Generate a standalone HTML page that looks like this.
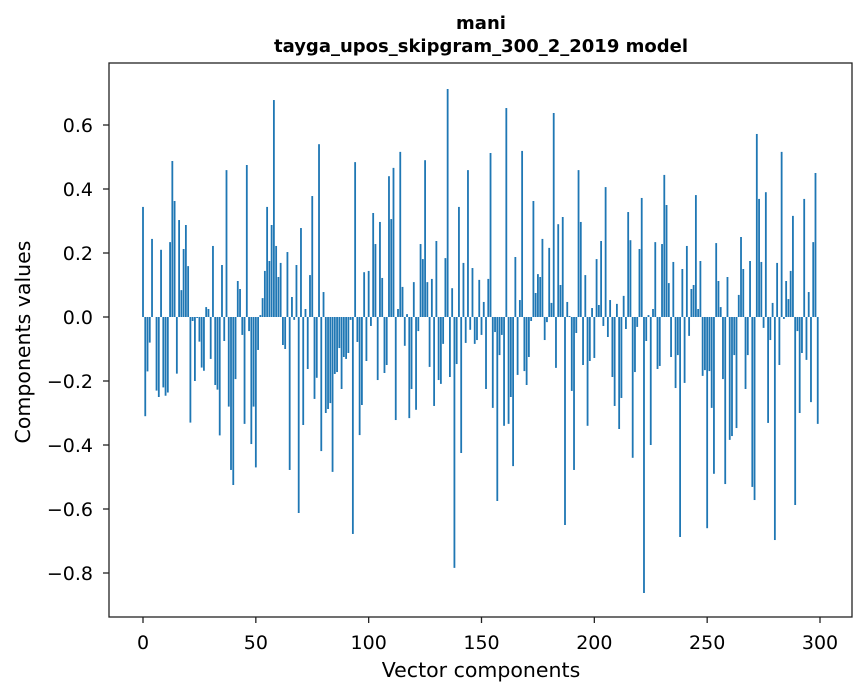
<!DOCTYPE html>
<html><head><meta charset="utf-8"><style>
body{margin:0;background:#fff;font-family:"DejaVu Sans","Liberation Sans",sans-serif}
</style></head><body>
<svg id="chart" width="867" height="696" xmlns="http://www.w3.org/2000/svg" font-family="DejaVu Sans, Liberation Sans, sans-serif">
<rect width="867" height="696" fill="#fff"/>
<text x="481" y="29" text-anchor="middle" font-size="18" font-weight="bold">mani</text>
<text x="481" y="52" text-anchor="middle" font-size="18" font-weight="bold">tayga_upos_skipgram_300_2_2019 model</text>
<g id="bars"></g>
<g id="axes"></g>
<rect x="109" y="63" width="743" height="554" fill="none" stroke="#222" stroke-width="1.3"/>
<text x="481" y="677" text-anchor="middle" font-size="20.5">Vector components</text>
<text transform="translate(30,342) rotate(-90)" text-anchor="middle" font-size="20.5">Components values</text>
</svg>
<script>
const values = [0.344,-0.31,-0.17,-0.08,0.244,0.0,-0.23,-0.25,0.21,-0.22,-0.246,-0.236,0.234,0.4875,0.3625,-0.177,0.303,0.084,0.2125,0.2875,0.159,-0.33,-0.0125,-0.2,-0.003,-0.077,-0.158,-0.168,0.031,0.025,-0.131,0.222,-0.2125,-0.227,-0.37,0.1625,-0.075,0.459,-0.28,-0.478,-0.525,-0.194,0.1125,0.0875,-0.056,-0.334,0.475,-0.044,-0.397,-0.28,-0.47,
-0.103,0.006,0.059,0.144,0.344,0.175,0.2875,0.678,0.222,0.125,0.169,-0.0875,-0.1,0.203,-0.478,0.0625,-0.009,0.1625,-0.6125,0.278,-0.3375,0.025,-0.1625,0.131,0.378,-0.256,-0.19,0.54,-0.419,0.078,-0.3,-0.2875,-0.269,-0.484,-0.178,-0.172,-0.097,-0.225,-0.125,-0.131,-0.1125,-0.009,-0.678,0.484,-0.078,-0.369,-0.275,0.14,-0.1375,
0.144,-0.028,0.325,0.228,-0.197,0.297,0.122,-0.175,-0.15,0.44,0.306,0.466,-0.322,0.025,0.516,0.094,-0.09,0.009,-0.316,-0.225,0.109,-0.29,-0.044,0.228,0.181,0.49,0.109,-0.156,0.119,-0.278,0.2375,-0.197,-0.209,-0.084,0.184,0.7125,-0.1875,0.09,-0.784,-0.147,0.344,-0.425,0.169,-0.081,0.459,-0.04,0.153,-0.084,-0.072,0.116,
-0.056,0.047,-0.225,0.119,0.5125,-0.284,-0.047,-0.575,-0.119,-0.056,-0.34,0.653,-0.334,-0.25,-0.466,0.1875,-0.181,0.053,0.519,-0.169,-0.2125,-0.125,-0.0125,0.3625,0.075,0.134,0.125,0.244,-0.072,-0.016,0.216,0.044,0.6375,-0.159,0.29,0.1,0.3125,-0.65,0.047,0.003,-0.231,-0.478,-0.05,0.459,0.297,-0.15,0.131,-0.34,-0.1375,0.028,
-0.128,0.181,0.0375,0.2375,-0.028,0.406,-0.0625,0.053,-0.1875,-0.278,0.041,-0.35,-0.253,0.066,-0.0375,0.328,0.24,-0.44,-0.172,-0.031,0.2125,0.372,-0.8625,-0.075,0.006,-0.4,0.025,0.234,-0.1625,-0.153,0.228,0.444,0.35,0.106,-0.125,0.172,-0.222,-0.119,-0.6875,0.15,-0.206,0.222,-0.059,0.0875,0.1,0.381,0.025,0.175,-0.184,-0.166,-0.66,
-0.169,-0.284,-0.49,0.231,0.1125,0.031,-0.194,-0.522,0.125,-0.384,-0.372,-0.119,-0.347,0.069,0.25,0.15,-0.225,-0.119,0.175,-0.531,-0.572,0.572,0.369,0.172,-0.034,0.39,-0.331,-0.072,0.044,-0.697,0.169,-0.15,0.516,-0.006,0.1125,0.056,0.144,0.316,-0.5875,-0.044,-0.3,-0.1125,0.369,-0.134,0.078,-0.266,0.234,0.45,-0.334];
const xTicks = [0,50,100,150,200,250,300];
const yTicks = [0.6,0.4,0.2,0.0,-0.2,-0.4,-0.6,-0.8];
const yTickLabels = ["0.6","0.4","0.2","0.0","\u22120.2","\u22120.4","\u22120.6","\u22120.8"];

const NS="http://www.w3.org/2000/svg";
function xs(v){return 143+v*(677/300);}
function ys(v){return 317-v*320;}
const bars=document.getElementById('bars');
values.forEach((v,i)=>{
  const r=document.createElementNS(NS,'rect');
  const w=0.8*(677/300);
  r.setAttribute('x',xs(i)-w/2);
  r.setAttribute('y',Math.min(ys(v),ys(0)));
  r.setAttribute('width',w);
  r.setAttribute('height',Math.abs(ys(v)-ys(0)));
  r.setAttribute('fill','#1f77b4');
  
  
  bars.appendChild(r);
});
const axes=document.getElementById('axes');
xTicks.forEach(t=>{
  const l=document.createElementNS(NS,'line');
  l.setAttribute('x1',xs(t));l.setAttribute('x2',xs(t));
  l.setAttribute('y1',617);l.setAttribute('y2',623);l.setAttribute('stroke','#222');l.setAttribute('stroke-width','1.3');
  
  
  axes.appendChild(l);
  const tx=document.createElementNS(NS,'text');
  tx.setAttribute('x',xs(t));tx.setAttribute('y',649);
  tx.setAttribute('text-anchor','middle');tx.setAttribute('font-size','19');
  tx.textContent=t;
  
  
  axes.appendChild(tx);
});
yTicks.forEach((t,k)=>{
  const l=document.createElementNS(NS,'line');
  l.setAttribute('x1',103);l.setAttribute('x2',109);
  l.setAttribute('y1',ys(t));l.setAttribute('y2',ys(t));l.setAttribute('stroke','#222');l.setAttribute('stroke-width','1.3');
  
  
  axes.appendChild(l);
  const tx=document.createElementNS(NS,'text');
  tx.setAttribute('x',93);tx.setAttribute('y',ys(t)+7);
  tx.setAttribute('text-anchor','end');tx.setAttribute('font-size','19');
  tx.textContent=yTickLabels[k];
  
  
  axes.appendChild(tx);
});
</script>
</body></html>
